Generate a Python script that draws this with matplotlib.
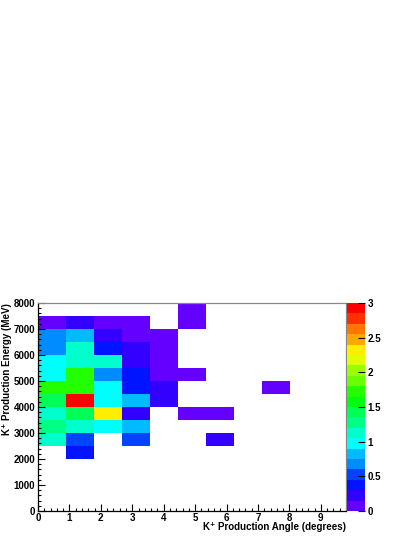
import colorsys
import numpy as np
import matplotlib
matplotlib.use("Agg")
import matplotlib.pyplot as plt
from matplotlib.colors import ListedColormap, Normalize
from matplotlib.ticker import MultipleLocator

plt.rcParams['font.family'] = ['Liberation Sans', 'DejaVu Sans']
plt.rcParams['font.weight'] = 'bold'

# ---- data ----
angle_edges = np.linspace(0.0, 9.8, 12)          # degrees, 11 bins
energy_edges = np.arange(2000, 8001, 500)       # MeV, 12 bins (2000..8000)

# rows: energy bins from 2000 upward; columns: angle bins
e2000 = [0.00, 0.38, 0.00, 0.00, 0.00, 0.00, 0.00, 0.00, 0.00, 0.00, 0.00]
e2500 = [1.12, 0.52, 0.00, 0.52, 0.00, 0.00, 0.22, 0.00, 0.00, 0.00, 0.00]
e3000 = [1.28, 1.12, 0.98, 0.82, 0.00, 0.00, 0.00, 0.00, 0.00, 0.00, 0.00]
e3500 = [1.12, 1.42, 2.32, 0.22, 0.00, 0.08, 0.08, 0.00, 0.00, 0.00, 0.00]
e4000 = [1.42, 3.00, 0.98, 0.82, 0.22, 0.00, 0.00, 0.00, 0.00, 0.00, 0.00]
e4500 = [1.72, 1.72, 0.98, 0.38, 0.22, 0.00, 0.00, 0.00, 0.08, 0.00, 0.00]
e5000 = [0.98, 1.72, 0.68, 0.38, 0.08, 0.08, 0.00, 0.00, 0.00, 0.00, 0.00]
e5500 = [0.98, 1.12, 1.12, 0.22, 0.08, 0.00, 0.00, 0.00, 0.00, 0.00, 0.00]
e6000 = [0.68, 1.12, 0.38, 0.22, 0.08, 0.00, 0.00, 0.00, 0.00, 0.00, 0.00]
e6500 = [0.68, 0.82, 0.22, 0.08, 0.08, 0.00, 0.00, 0.00, 0.00, 0.00, 0.00]
e7000 = [0.08, 0.22, 0.08, 0.08, 0.00, 0.08, 0.00, 0.00, 0.00, 0.00, 0.00]
e7500 = [0.00, 0.00, 0.00, 0.00, 0.00, 0.08, 0.00, 0.00, 0.00, 0.00, 0.00]

x_ticks = [0, 1, 2, 3, 4, 5, 6, 7, 8, 9]
y_ticks = [0, 1000, 2000, 3000, 4000, 5000, 6000, 7000, 8000]
z_ticks = [0, 0.5, 1, 1.5, 2, 2.5, 3]
z_tick_labels = ['0', '0.5', '1', '1.5', '2', '2.5', '3']
x_title = 'K\u207a Production Angle (degrees)'
y_title = 'K\u207a Production Energy (MeV)'

counts = np.array([e2000, e2500, e3000, e3500, e4000, e4500,
                   e5000, e5500, e6000, e6500, e7000, e7500])

# ---- ROOT "pretty" palette, 20 contour levels ----
ncont = 20
cols = []
for k in range(ncont):
    idx = int((k + 0.99) * 50 / ncont)
    hue = 280 - (idx + 1) * 5.6
    cols.append(colorsys.hls_to_rgb(hue / 360.0, 0.5, 1.0))
cmap = ListedColormap(cols)
norm = Normalize(vmin=0, vmax=3)

W, H = 415, 537
fig = plt.figure(figsize=(W / 100, H / 100), dpi=100)
ax = fig.add_axes([38 / W, (H - 511) / H, (346 - 38) / W, (511 - 303) / H])
cax = fig.add_axes([347 / W, (H - 511) / H, (365 - 347) / W, (511 - 303) / H])

data = np.ma.masked_where(counts <= 0, counts)
mesh = ax.pcolormesh(angle_edges, energy_edges, data, cmap=cmap, norm=norm,
                     edgecolor='none')

ax.set_xlim(0, 9.8)
ax.set_ylim(0, 8000)
ax.set_xticks(x_ticks)
ax.set_yticks(y_ticks)
ax.xaxis.set_minor_locator(MultipleLocator(0.2))
ax.yaxis.set_minor_locator(MultipleLocator(200))
ax.tick_params(which='both', direction='in', labelsize=7, width=0.8,
               top=False, right=False)
ax.tick_params(which='major', length=5)
ax.tick_params(which='minor', length=2.5)
ax.tick_params(axis='x', pad=1.5)
ax.tick_params(axis='y', pad=2)
for lab in ax.get_xticklabels() + ax.get_yticklabels():
    lab.set_fontweight('bold')
for side in ['top', 'right']:
    ax.spines[side].set_color('#888888')
for side in ['left', 'bottom']:
    ax.spines[side].set_color('black')
for s in ax.spines.values():
    s.set_linewidth(0.9)

fig.text(346 / W, (H - 527.5) / H, x_title, fontsize=7, fontweight='bold',
         ha='right', va='center')
fig.text(7.5 / W, (H - 303) / H, y_title, fontsize=7, fontweight='bold',
         ha='center', va='top', rotation=90)

cb = fig.colorbar(mesh, cax=cax)
cb.set_ticks(z_ticks)
cb.set_ticklabels(z_tick_labels)
cax.tick_params(direction='in', length=5, width=0.8, labelsize=7, pad=2)
for lab in cax.get_yticklabels():
    lab.set_fontweight('bold')
cb.outline.set_visible(False)

fig.savefig('out.png', dpi=100)
